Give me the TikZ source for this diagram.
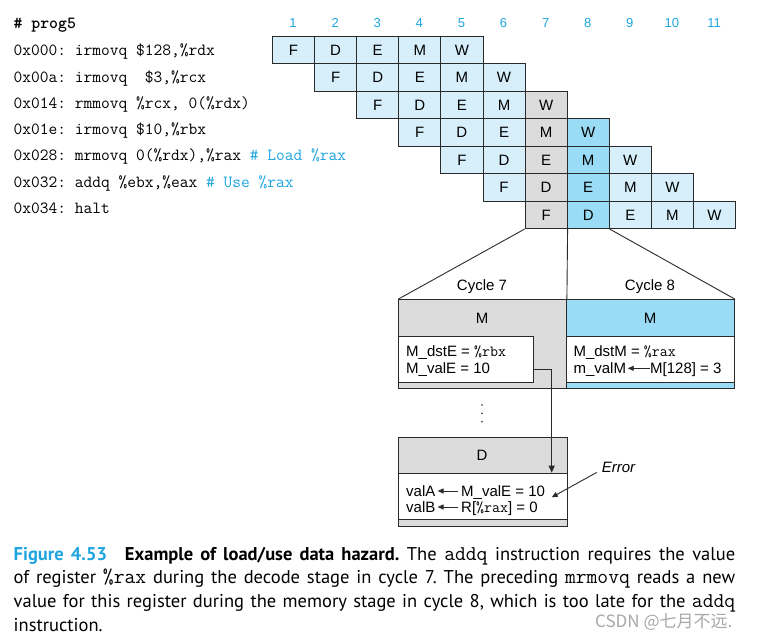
\documentclass[tikz,border=0pt]{standalone}
\usepackage{fontspec}
\setsansfont{Liberation Sans}
\newfontfamily\capfont{PT Sans}
\newfontfamily\cjkfont{Noto Sans CJK SC}
\usetikzlibrary{arrows.meta,calc}
\definecolor{lightcell}{HTML}{D6EFFA}
\definecolor{midcell}{HTML}{9ADCF5}
\definecolor{graycell}{HTML}{DCDCDC}
\definecolor{figblue}{HTML}{1EA5E0}
\definecolor{linec}{HTML}{2A2A2A}
\definecolor{wmgray}{HTML}{A8A8A8}
\newcommand\captt[1]{{\ttfamily\fontsize{21}{22}\selectfont #1}}
\newcommand\smtt[1]{{\ttfamily\fontsize{15.5}{16}\selectfont #1}}
\frenchspacing
\begin{document}
\begin{tikzpicture}[x=1pt,y=-1pt,
  cell/.style={draw=linec, line width=0.9pt, minimum width=42.1pt, minimum height=27.45pt, inner sep=0pt, anchor=north west, font=\sffamily\fontsize{15}{18}\selectfont},
  hdr/.style={text=figblue, inner sep=0pt, font=\sffamily\fontsize{13}{15}\selectfont},
  code/.style={anchor=base west, inner sep=0pt, font=\ttfamily\fontsize{17}{20}\selectfont},
  lbl/.style={inner sep=0pt, font=\sffamily\fontsize{15}{18}\selectfont},
  txt/.style={lbl, anchor=base west},
  panel/.style={draw=linec, line width=0.9pt, anchor=north west, inner sep=0pt},
  conn/.style={draw=linec, line width=0.9pt},
  arr/.style={conn, -{Triangle[length=7pt,width=6pt]}},
  tarr/.style={conn, -{Triangle[length=6pt,width=5pt]}},
  capline/.style={anchor=base west, inner sep=0pt, font=\capfont\fontsize{18.5}{22}\selectfont}
]
\useasboundingbox (0,0) rectangle (761,640);

% header numbers
\foreach \n in {1,...,11}{
  \node[hdr] (h\n) at ({272+(\n-0.5)*42.1},23) {\n};
}

% program text
\node[code, font=\ttfamily\bfseries\fontsize{17}{20}\selectfont] (l0) at (13.3,28.3) {\# prog5};
\node[code] (l1) at (13.3,55.3) {0x000: irmovq \$128,\%rdx};
\node[code] (l2) at (13.3,82) {0x00a: irmovq\ \ \$3,\%rcx};
\node[code] (l3) at (13.3,108.3) {0x014: rmmovq \%rcx, 0(\%rdx)};
\node[code] (l4) at (13.3,134.6) {0x01e: irmovq \$10,\%rbx};
\node[code] (l5) at (13.3,160.6) {0x028: mrmovq 0(\%rdx),\%rax {\color{figblue}\# Load \%rax}};
\node[code] (l6) at (13.3,187) {0x032: addq \%ebx,\%eax {\color{figblue}\# Use \%rax}};
\node[code] (l7) at (13.3,213) {0x034: halt};

% pipeline cells
\foreach \i in {0,...,6}{
  \foreach \L [count=\k from 0] in {F,D,E,M,W}{
    \pgfmathtruncatemacro\col{\i+\k+1}
    \def\fc{lightcell}
    \ifnum\col=7 \ifnum\i>1 \def\fc{graycell}\fi\fi
    \ifnum\col=8 \ifnum\i>2 \def\fc{midcell}\fi\fi
    \node[cell, fill=\fc] (c\i-\col) at ({272+(\col-1)*42.1},{36+\i*27.45}) {\L};
  }
}

% expanded panels
\node[panel, fill=graycell, minimum width=168pt, minimum height=89pt] (c7box) at (398,299.3) {};
\node[panel, fill=midcell, minimum width=168.3pt, minimum height=89pt] (c8box) at (566,299.3) {};
\node[panel, fill=white, minimum width=134.7pt, minimum height=46.6pt] (c7reg) at (398,335.7) {};
\node[panel, fill=white, minimum width=168.3pt, minimum height=46.6pt] (c8reg) at (566,335.7) {};

\draw[conn] (c6-7.south west) -- (c7box.north west);
\draw[conn] (c6-7.south east) -- (c7box.north east);
\draw[conn] (c6-8.south east) -- (c8box.north east);

\node[lbl] (cy7) at (482,287) {Cycle 7};
\node[lbl] (cy8) at (650,287) {Cycle 8};
\node[lbl] (m7) at (482,318) {M};
\node[lbl] (m8) at (650,318) {M};

\node[txt] (dste) at (406,356.7) {M\_dstE = \smtt{\%rbx}};
\node[txt] (vale) at (406,373.3) {M\_valE = 10};
\node[txt] (dstm) at (573.3,356.7) {M\_dstM = \smtt{\%rax}};
\node[txt] (valm) at (573.3,373.3) {m\_valM};
\node[txt] (m128) at (650,373.3) {M[128] = 3};
\draw[tarr] ([yshift=5pt]m128.base west) -- ([xshift=1.5pt,yshift=5pt]valm.base east);

% dots
\fill[linec] (482,405) circle (0.9);
\fill[linec] (482,413.3) circle (0.9);
\fill[linec] (482,421.7) circle (0.9);

% decode box
\node[panel, fill=graycell, minimum width=168.7pt, minimum height=89.3pt] (dbox) at (398,436.7) {};
\node[panel, fill=white, minimum width=168.7pt, minimum height=46.6pt] (dreg) at (398,472.7) {};
\node[lbl] (dl) at (482,455) {D};
\node[txt] (vala) at (406,496) {valA};
\node[txt] (mvale) at (461,496) {M\_valE = 10};
\node[txt] (valb) at (406,512) {valB};
\node[txt] (rrax) at (461,512) {R[\smtt{\%rax}] = 0};
\draw[tarr] ([xshift=-3.5pt,yshift=5pt]mvale.base west) -- ([xshift=2pt,yshift=5pt]vala.base east);
\draw[tarr] ([xshift=-3.5pt,yshift=5pt]rrax.base west) -- ([xshift=2pt,yshift=5pt]valb.base east);

% forwarding connector
\coordinate (tapx) at (551.7,369);
\draw[arr] (c7reg.east |- tapx) -- (tapx) -- (tapx |- dreg.north);

% error label
\node[lbl, font=\sffamily\itshape\fontsize{15}{18}\selectfont, anchor=west] (err) at (601.7,467) {Error};
\coordinate (errtip) at (551.7,497.3);
\draw[tarr] ([xshift=-5pt]err.south west) -- (errtip);

% caption
\node[capline] (cap1) at (13.5,560) {\makebox[721.5pt][s]{{\color{figblue}\bfseries Figure 4.53}\hspace{18pt}{\bfseries Example of load/use data hazard.} The \captt{addq} instruction requires the value}};
\node[capline] (cap2) at (13.5,583.5) {\makebox[721.5pt][s]{of register \captt{\%rax} during the decode stage in cycle 7. The preceding \captt{mrmovq} reads a new}};
\node[capline] (cap3) at (13.5,607.5) {\makebox[721.5pt][s]{value for this register during the memory stage in cycle 8, which is too late for the \captt{addq}}};
\node[capline] (cap4) at (13.5,631.5) {instruction.};

% watermark
\node[anchor=base west, inner sep=0pt, text=wmgray, font=\cjkfont\fontsize{17}{20}\selectfont] (wm) at (595,627) {CSDN @七月不远.};
\end{tikzpicture}
\end{document}
